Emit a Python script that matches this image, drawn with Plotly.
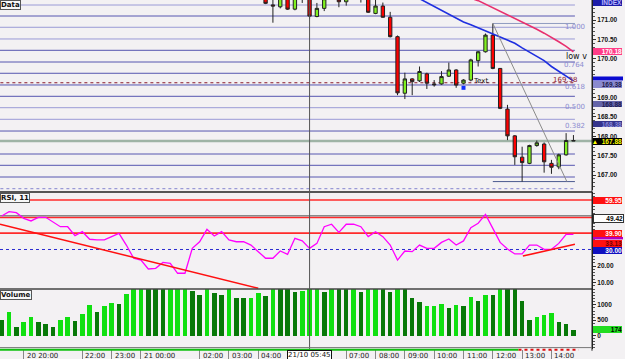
import plotly.graph_objects as go

# ---------------- data ----------------
bar_index = list(range(79))

candle_x = list(range(36, 79))
opens = [171.62, 171.39, 171.34, 171.60, 171.28, 171.70, 171.62, 171.09, 171.30, 171.56,
         171.60, 171.47, 171.58, 171.60, 171.58, 171.17, 171.36, 171.07, 170.57, 169.11,
         169.48, 169.43, 169.61, 169.35, 169.35, 169.55, 169.71, 169.37, 169.45, 169.95,
         170.18, 170.61, 169.75, 168.70, 168.01, 167.46, 167.30, 167.76, 167.80, 167.30,
         167.21, 167.52, 167.89]
highs = [171.70, 171.55, 171.62, 171.66, 171.75, 171.80, 171.70, 171.44, 171.60, 171.70,
         171.65, 171.58, 171.70, 171.68, 171.62, 171.52, 171.45, 171.21, 170.60, 169.64,
         169.50, 169.80, 169.64, 169.45, 169.68, 169.90, 169.73, 169.47, 170.00, 170.20,
         170.65, 170.91, 169.76, 168.81, 168.03, 167.73, 167.78, 167.89, 167.84, 167.39,
         167.55, 168.08, 168.03]
lows = [171.41, 170.93, 171.30, 171.26, 171.25, 171.44, 171.03, 171.07, 171.23, 171.53,
        171.33, 171.37, 171.54, 171.45, 171.18, 171.15, 171.06, 170.55, 169.06, 168.96,
        169.06, 169.40, 169.22, 169.28, 169.33, 169.53, 169.25, 169.34, 169.42, 169.80,
        170.16, 169.73, 168.70, 167.90, 167.26, 166.83, 167.28, 167.73, 167.06, 167.03,
        167.15, 167.50, 167.88]
closes = [171.43, 171.36, 171.58, 171.28, 171.62, 171.65, 171.10, 171.30, 171.55, 171.62,
          171.47, 171.55, 171.60, 171.58, 171.20, 171.36, 171.07, 170.57, 169.12, 169.48,
          169.41, 169.67, 169.37, 169.33, 169.54, 169.71, 169.32, 169.45, 169.97, 170.18,
          170.61, 169.75, 168.72, 168.01, 167.47, 167.32, 167.76, 167.83, 167.34, 167.20,
          167.52, 167.89, 167.88]

blue_ma_x = list(range(56, 79))
blue_ma = [171.65, 171.55, 171.45, 171.35, 171.25, 171.15, 171.05, 170.95, 170.88, 170.80,
           170.73, 170.66, 170.58, 170.50, 170.40, 170.28, 170.17, 170.06, 169.95, 169.80,
           169.68, 169.55, 169.43]
pink_ma_x = list(range(63, 79))
pink_ma = [171.65, 171.56, 171.50, 171.41, 171.30, 171.22, 171.13, 171.04, 170.95, 170.85,
           170.76, 170.66, 170.56, 170.44, 170.32, 170.18]

level_lines = [171.387, 171.103, 170.812, 170.510, 170.218, 169.916, 169.625, 169.323,
               169.031, 168.737, 168.437, 168.135, 167.542, 167.250, 166.948]
level_light = [True, False, True, True, False, False, False, False,
               False, True, True, False, False, False, False]
bottom_dotted_level = 166.646
red_level = 169.38
last_price = 167.88

fib_x = [67, 78.2]
fib_high = 170.91
fib_low = 166.83
fib_diag_x = [67, 77.1]
fib_diag_y = [170.91, 166.83]
fib_names = ["1.000", "0.764", "0.618", "0.500", "0.382"]
fib_label_y = [170.83, 169.84, 169.27, 168.755, 168.265]

marker_x = [63]
marker_y = [169.25]

rsi = [50.3, 52.9, 52.3, 48.9, 47.3, 49.5, 49.5, 46.9, 43.8, 43.8,
       38.4, 40.8, 36.2, 35.8, 35.8, 37.8, 39.8, 32.7, 24.7, 23.6,
       18.2, 18.6, 22.2, 21.6, 15.6, 15.6, 30.7, 34.7, 42.2, 38.2,
       40.8, 35.8, 34.7, 34.7, 32.7, 28.7, 24.7, 24.7, 29.1, 27.1,
       36.8, 35.2, 30.7, 33.7, 43.8, 45.3, 40.4, 45.3, 45.3, 43.8,
       37.8, 40.8, 37.8, 32.7, 23.6, 29.1, 28.7, 32.7, 30.7, 30.7,
       34.3, 36.4, 32.7, 35.2, 43.2, 45.9, 51.3, 42.8, 34.3, 30.3,
       27.3, 27.3, 32.7, 32.7, 30.1, 30.1, 33.7, 39.2, 39.2]
rsi_levels_red = [59.95, 49.42, 39.90]
rsi_mid = 50.0
rsi_low = 30.0
rsi_trend1_x = [-0.23, 35.0]
rsi_trend1_y = [45.3, 6.5]
rsi_trend2_x = [71.1, 78.2]
rsi_trend2_y = [26.0, 33.13]

volume = [507, 757, 268, 431, 595, 431, 376, 268, 517, 615,
          463, 692, 997, 757, 975, 1072, 1019, 1346, 1650, 1700,
          1680, 1640, 1600, 1650, 1700, 1750, 1454, 1324, 1600, 1379,
          1313, 1600, 1215, 1215, 1236, 1379, 1291, 1600, 1580, 1560,
          1412, 1465, 1600, 1620, 1431, 1600, 1580, 1560, 1600, 1431,
          1600, 1650, 1600, 1412, 1600, 1560, 1236, 1105, 974, 974,
          1029, 889, 997, 964, 1268, 1127, 1324, 1324, 1600, 1580,
          1560, 1127, 507, 595, 670, 725, 431, 366, 174]
volume_up = [0, 1, 0, 1, 1, 0, 0, 0, 1, 1,
             0, 1, 1, 0, 1, 1, 0, 1, 1, 1,
             0, 0, 0, 1, 1, 1, 0, 0, 1, 0,
             0, 1, 0, 0, 1, 1, 0, 1, 0, 0,
             0, 1, 1, 1, 0, 1, 0, 0, 1, 0,
             1, 1, 0, 0, 1, 0, 0, 0, 1, 1,
             1, 0, 1, 0, 1, 0, 1, 0, 1, 0,
             0, 0, 0, 1, 1, 1, 0, 0, 0]

time_tick_bars = [3, 11, 15, 19, 27, 31, 35, 47, 51, 55, 59, 63, 67, 71, 75]
time_tick_labels = ["20 20:00", "22:00", "23:00", "21 00:00", "02:00", "03:00", "04:00",
                    "07:00", "08:00", "09:00", "10:00", "11:00", "12:00", "13:00", "14:00"]
cursor_bar = 42
cursor_label = "21/10 05:45"
session_split = 70.5
session_end = 78.7

price_ticks = [167.0, 167.5, 168.0, 168.5, 169.0, 169.5, 170.0, 170.5, 171.0]
price_tick_text = ["167.00", "167.50", "168.00", "168.50", "169.00", "", "170.00", "170.50", "171.00"]
rsi_ticks = [10, 20, 30, 40, 50, 60]
rsi_tick_text = ["10.00", "20.00", "", "", "", ""]
vol_ticks = [0, 500, 1000]
vol_tick_text = ["0", "500", "1000"]

# ---------------- figure ----------------
BG = "#f3f1f3"
FONT = "DejaVu Sans"
fig = go.Figure()

fig.add_trace(go.Candlestick(
    x=candle_x, open=opens, high=highs, low=lows, close=closes,
    increasing=dict(line=dict(color="#222222", width=1), fillcolor="#80f020"),
    decreasing=dict(line=dict(color="#222222", width=1), fillcolor="#ff0000"),
    whiskerwidth=0, hoverinfo="skip", xaxis="x", yaxis="y"))

fig.add_trace(go.Scatter(x=blue_ma_x, y=blue_ma, mode="lines",
                         line=dict(color="#1f2fe0", width=1.6), xaxis="x", yaxis="y"))
fig.add_trace(go.Scatter(x=pink_ma_x, y=pink_ma, mode="lines",
                         line=dict(color="#e8306e", width=1.6), xaxis="x", yaxis="y"))
fig.add_trace(go.Scatter(x=fib_diag_x, y=fib_diag_y, mode="lines",
                         line=dict(color="#8a8a8a", width=1), xaxis="x", yaxis="y"))
fig.add_trace(go.Scatter(x=marker_x, y=marker_y, mode="markers",
                         marker=dict(symbol="square", size=4, color="#1030ff"),
                         xaxis="x", yaxis="y"))

fig.add_trace(go.Scatter(x=bar_index, y=rsi, mode="lines",
                         line=dict(color="#ff00ff", width=1.3), xaxis="x", yaxis="y2"))
fig.add_trace(go.Scatter(x=rsi_trend1_x, y=rsi_trend1_y, mode="lines",
                         line=dict(color="#ff1010", width=1.5), xaxis="x", yaxis="y2"))
fig.add_trace(go.Scatter(x=rsi_trend2_x, y=rsi_trend2_y, mode="lines",
                         line=dict(color="#ff1010", width=1.5), xaxis="x", yaxis="y2"))

fig.add_trace(go.Bar(x=bar_index, y=volume, width=0.62,
                     marker=dict(color=["#10e010" if u else "#087808" for u in volume_up],
                                 line=dict(width=0)),
                     xaxis="x", yaxis="y3"))

shapes = []
x_end = 78.2
for lv, light in zip(level_lines, level_light):
    shapes.append(dict(type="line", xref="x", yref="y", x0=-1, x1=x_end, y0=lv, y1=lv,
                       line=dict(color="#9a9ad6" if light else "#5656b0", width=1), layer="below"))
shapes.append(dict(type="line", xref="x", yref="y", x0=-1, x1=x_end, y0=bottom_dotted_level,
                   y1=bottom_dotted_level, line=dict(color="#9a9ad6", width=1.2, dash="dot"), layer="below"))
shapes.append(dict(type="line", xref="x", yref="y", x0=-1, x1=x_end, y0=red_level, y1=red_level,
                   line=dict(color="#8a1a2a", width=1.2, dash="dot"), layer="below"))
shapes.append(dict(type="line", xref="paper", yref="y", x0=0, x1=1, y0=last_price, y1=last_price,
                   line=dict(color="#9fb3a6", width=2.5), layer="below"))
shapes.append(dict(type="line", xref="x", yref="y", x0=fib_x[0], x1=fib_x[1], y0=fib_high, y1=fib_high,
                   line=dict(color="#8f9cc0", width=1), layer="below"))
shapes.append(dict(type="line", xref="x", yref="y", x0=fib_x[0], x1=fib_x[1], y0=fib_low, y1=fib_low,
                   line=dict(color="#4a5a90", width=1), layer="below"))
# RSI levels
for lv in rsi_levels_red:
    shapes.append(dict(type="line", xref="paper", yref="y2", x0=0, x1=1, y0=lv, y1=lv,
                       line=dict(color="#ff2a2a", width=1.6), layer="below"))
shapes.append(dict(type="line", xref="paper", yref="y2", x0=0, x1=1, y0=rsi_mid + 0.4, y1=rsi_mid + 0.4,
                   line=dict(color="#555555", width=1), layer="below"))
shapes.append(dict(type="line", xref="paper", yref="y2", x0=0, x1=1, y0=rsi_low, y1=rsi_low,
                   line=dict(color="#2a2ad0", width=1, dash="dot"), layer="below"))
# panel separators and borders
shapes.append(dict(type="line", xref="paper", yref="paper", x0=0, x1=1, y0=0.4499, y1=0.4499,
                   line=dict(color="#555555", width=2)))
shapes.append(dict(type="line", xref="paper", yref="paper", x0=0, x1=1, y0=0.1719, y1=0.1719,
                   line=dict(color="#444444", width=1.5)))
shapes.append(dict(type="line", xref="paper", yref="paper", x0=1, x1=1, y0=-0.005, y1=1,
                   line=dict(color="#222222", width=1)))
shapes.append(dict(type="line", xref="x", yref="paper", x0=cursor_bar, x1=cursor_bar, y0=-0.01, y1=1,
                   line=dict(color="#555555", width=1)))
shapes.append(dict(type="line", xref="paper", yref="paper", x0=0, x1=1, y0=0.004, y1=0.004,
                   line=dict(color="#777777", width=1)))
shapes.append(dict(type="line", xref="x", yref="paper", x0=-1, x1=session_split, y0=-0.002, y1=-0.002,
                   line=dict(color="#10c010", width=2)))
shapes.append(dict(type="line", xref="x", yref="paper", x0=session_split, x1=session_end, y0=-0.002, y1=-0.002,
                   line=dict(color="#e01010", width=2, dash="dot")))
# label strips whose text is hidden behind neighbouring boxes
shapes.append(dict(type="rect", xref="paper", yref="y", x0=1.0017, x1=1.0524, y0=169.439, y1=169.542,
                   fillcolor="#0a0ad0", line=dict(width=0)))
shapes.append(dict(type="rect", xref="paper", yref="y2", x0=1.0017, x1=1.0524, y0=36.1, y1=37.6,
                   fillcolor="#b000c0", line=dict(width=0)))

ann = []


def axis_box(text, yv, yref, bg, fg, border=None, h=7):
    ann.append(dict(xref="paper", x=1, xanchor="left", xshift=1, yref=yref, y=yv, yanchor="middle",
                    text="<b>%s</b>" % text, showarrow=False, bgcolor=bg, width=29, height=h,
                    align="right", borderpad=0, bordercolor=border or bg, borderwidth=1 if border else 0,
                    font=dict(family="Liberation Sans", size=6.5, color=fg)))


axis_box("INDEX", 171.46, "y", "#1c1ca8", "#b8b8ff")
axis_box("170.18", 170.18, "y", "#ff3c88", "#ffffff")
axis_box("169.38", 169.33, "y", "#8a8ace", "#1a1a50")
axis_box("168.88", 168.82, "y", "#6464a8", "#1a1a50", h=6)
axis_box("168.38", 168.32, "y", "#34348c", "#8888d8", h=6)
axis_box("\u25b2  167.88", 167.86, "y", "#000000", "#ffff00")
axis_box("59.95", 59.95, "y2", "#ff1010", "#ffffff")
axis_box("49.42", 49.0, "y2", "#ffffff", "#000000", border="#333333")
axis_box("39.90", 39.9, "y2", "#ff1010", "#ffffff")
axis_box("33.13", 33.76, "y2", "#ff1010", "#700000")
axis_box("30.00", 29.4, "y2", "#1010c0", "#ffffff")
axis_box("174", 190, "y3", "#22dd22", "#000000")

# fib labels
for nm, yv in zip(fib_names, fib_label_y):
    ann.append(dict(xref="x", x=78.2, yref="y", y=yv, text=nm, showarrow=False,
                    font=dict(family=FONT, size=7, color="#8c8cd0")))
ann.append(dict(xref="x", x=76.9, yref="y", y=169.46, text="169.38", showarrow=False,
                font=dict(family=FONT, size=7, color="#902030")))
ann.append(dict(xref="x", x=65.3, yref="y", y=169.43, text="Text", showarrow=False,
                font=dict(family=FONT, size=7, color="#111111")))
ann.append(dict(xref="x", x=76.7, xanchor="left", yref="y", y=170.07, text="low v", showarrow=False,
                font=dict(family=FONT, size=8, color="#111111")))

# panel titles
for txt, yv in [("Data", 1.0), ("RSI, 11", 0.447), ("Volume", 0.169)]:
    ann.append(dict(xref="paper", x=0, xanchor="left", yref="paper", y=yv, yanchor="top",
                    text="<b>%s</b>" % txt, showarrow=False, bgcolor="#f8f8f8", bordercolor="#555555",
                    borderwidth=1, borderpad=0, font=dict(family=FONT, size=7, color="#111111")))

# time labels
for b, lab in zip(time_tick_bars, time_tick_labels):
    ann.append(dict(xref="x", x=b, xanchor="left", xshift=1, yref="paper", y=0, yanchor="top",
                    yshift=-1, text=lab, showarrow=False,
                    font=dict(family=FONT, size=7, color="#222222")))
ann.append(dict(xref="x", x=cursor_bar, xanchor="center", yref="paper", y=0, yanchor="top",
                yshift=-1, text=cursor_label, showarrow=False, bgcolor="#ffffff",
                bordercolor="#111111", borderwidth=1, borderpad=0,
                font=dict(family=FONT, size=7, color="#111111")))

tickfont = dict(family="Liberation Sans", size=6.5, color="#111111", weight="bold")
yax_common = dict(side="right", anchor="x", showgrid=False, zeroline=False, ticks="outside",
                  ticklen=3, tickcolor="#333333", showline=True, linecolor="#222222",
                  tickfont=tickfont, fixedrange=True)

fig.update_layout(
    width=625, height=359, margin=dict(l=0, r=33, t=0, b=10),
    paper_bgcolor=BG, plot_bgcolor=BG, showlegend=False, boxgap=0.35, bargap=0,
    xaxis=dict(domain=[0, 1], range=[-0.232, 80.53], anchor="y3", showgrid=False, zeroline=False,
               tickvals=time_tick_bars, ticktext=[""] * len(time_tick_bars), ticks="outside",
               ticklen=9, tickcolor="#888888", rangeslider=dict(visible=False), showline=False),
    yaxis=dict(domain=[0.4556, 1], range=[166.613, 171.516], tickvals=price_ticks,
               ticktext=price_tick_text,
               minor=dict(ticks="outside", ticklen=2, dtick=0.1, tickcolor="#555555"), **yax_common),
    yaxis2=dict(domain=[0.1719, 0.4499], range=[6.06, 64.85], tickvals=rsi_ticks,
                ticktext=rsi_tick_text,
                minor=dict(ticks="outside", ticklen=2, dtick=2, tickcolor="#555555"), **yax_common),
    yaxis3=dict(domain=[0, 0.1719], range=[-441, 1520], tickvals=vol_ticks,
                ticktext=vol_tick_text,
                minor=dict(ticks="outside", ticklen=2, dtick=100, tickcolor="#555555"), **yax_common),
    shapes=shapes, annotations=ann,
)

fig.write_html("out.html")
